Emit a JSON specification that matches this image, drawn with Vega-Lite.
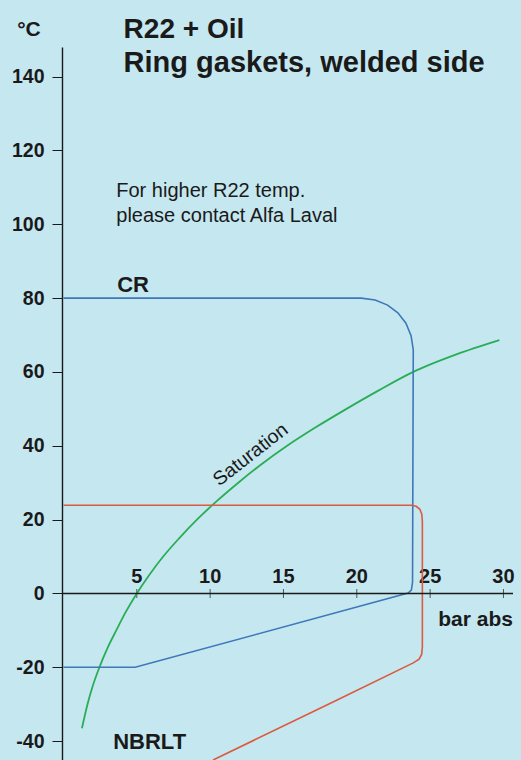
{
  "$schema": "https://vega.github.io/schema/vega-lite/v6.json",
  "width": 451,
  "height": 713,
  "autosize": {"type": "none"},
  "padding": {"left": 62, "top": 47, "right": 8, "bottom": 0},
  "background": "#c5e7f0",
  "config": {
    "view": {"stroke": null},
    "font": "Liberation Sans",
    "text": {"font": "Liberation Sans", "color": "#1a1a1a"},
    "axisY": {
      "grid": false,
      "domainColor": "#1a1a1a", "domainWidth": 1.4,
      "tickColor": "#1a1a1a", "tickWidth": 1, "tickSize": 10,
      "labelPadding": 8, "labelFont": "Liberation Sans",
      "labelFontSize": 19.5, "labelFontWeight": "bold", "labelColor": "#1a1a1a"
    }
  },
  "datasets": {
    "cr": [
      {"o": 1, "x": 0, "y": 80},
      {"o": 2, "x": 20.3, "y": 80},
      {"o": 3, "x": 21.25, "y": 79.5},
      {"o": 4, "x": 22.1, "y": 78.1},
      {"o": 5, "x": 22.8, "y": 76.0},
      {"o": 6, "x": 23.35, "y": 73.2},
      {"o": 7, "x": 23.7, "y": 69.8},
      {"o": 8, "x": 23.85, "y": 66.0},
      {"o": 9, "x": 23.8, "y": 3.0},
      {"o": 10, "x": 23.72, "y": 0.9},
      {"o": 11, "x": 23.5, "y": 0.1},
      {"o": 12, "x": 4.89, "y": -20},
      {"o": 13, "x": 0, "y": -20}
    ],
    "nbr": [
      {"o": 1, "x": 0, "y": 23.9},
      {"o": 2, "x": 23.7, "y": 23.9},
      {"o": 3, "x": 24.05, "y": 23.6},
      {"o": 4, "x": 24.3, "y": 22.8},
      {"o": 5, "x": 24.43, "y": 21.5},
      {"o": 6, "x": 24.47, "y": 19.5},
      {"o": 7, "x": 24.47, "y": -14.5},
      {"o": 8, "x": 24.42, "y": -16.5},
      {"o": 9, "x": 24.25, "y": -17.8},
      {"o": 10, "x": 23.85, "y": -18.8},
      {"o": 11, "x": 18.38, "y": -29.4},
      {"o": 12, "x": 10.2, "y": -45.1}
    ],
    "sat": [
      {"x": 1.26, "y": -36.5},
      {"x": 1.64, "y": -30},
      {"x": 2.0, "y": -25},
      {"x": 2.45, "y": -20},
      {"x": 3.0, "y": -14.8},
      {"x": 3.6, "y": -10},
      {"x": 4.25, "y": -5},
      {"x": 5.0, "y": 0},
      {"x": 5.85, "y": 5},
      {"x": 6.8, "y": 10},
      {"x": 7.9, "y": 15},
      {"x": 9.1, "y": 20},
      {"x": 10.45, "y": 25},
      {"x": 11.92, "y": 30},
      {"x": 13.5, "y": 35},
      {"x": 15.25, "y": 40},
      {"x": 17.2, "y": 45},
      {"x": 19.3, "y": 50},
      {"x": 21.5, "y": 55},
      {"x": 23.85, "y": 60},
      {"x": 26.7, "y": 64.6},
      {"x": 29.72, "y": 68.6}
    ],
    "xticks": [
      {"x": 5, "y": 0, "t": "5"},
      {"x": 10, "y": 0, "t": "10"},
      {"x": 15, "y": 0, "t": "15"},
      {"x": 20, "y": 0, "t": "20"},
      {"x": 25, "y": 0, "t": "25"},
      {"x": 30, "y": 0, "t": "30"}
    ]
  },
  "encoding": {
    "x": {"field": "x", "type": "quantitative", "title": null, "scale": {"domain": [-0.1, 30.65], "nice": false, "zero": false}, "axis": null},
    "y": {"field": "y", "type": "quantitative", "title": null, "scale": {"domain": [-45.1, 148], "nice": false, "zero": false},
      "axis": {"values": [-40, -20, 0, 20, 40, 60, 80, 100, 120, 140], "labelExpr": "'' + datum.value"}}
  },
  "layer": [
    {
      "data": {"name": "xticks"},
      "mark": {"type": "tick", "orient": "vertical", "size": 9, "thickness": 1, "color": "#1a1a1a"}
    },
    {
      "data": {"name": "xticks"},
      "mark": {"type": "text", "fontSize": 20, "fontWeight": "bold", "baseline": "middle", "align": "center", "dy": -16},
      "encoding": {"text": {"field": "t"}}
    },
    {
      "data": {"name": "sat"},
      "mark": {"type": "line", "color": "#2aad55", "strokeWidth": 1.8, "interpolate": "monotone"}
    },
    {
      "data": {"name": "cr"},
      "mark": {"type": "line", "color": "#3f78b8", "strokeWidth": 1.6},
      "encoding": {"order": {"field": "o"}}
    },
    {
      "data": {"name": "nbr"},
      "mark": {"type": "line", "color": "#dc5a3e", "strokeWidth": 1.6},
      "encoding": {"order": {"field": "o"}}
    },
    {
      "data": {"values": [{"x": 12.75, "y": 37.6, "t": "Saturation"}]},
      "mark": {"type": "text", "fontSize": 19.5, "angle": 322, "align": "center", "baseline": "middle"},
      "encoding": {"text": {"field": "t"}}
    },
    {
      "data": {"values": [{"x": 3.6, "y": 108.9, "t": "For higher R22 temp."}, {"x": 3.6, "y": 102.1, "t": "please contact Alfa Laval"}]},
      "mark": {"type": "text", "fontSize": 20, "align": "left", "baseline": "middle"},
      "encoding": {"text": {"field": "t"}}
    },
    {
      "data": {"values": [{"x": 3.66, "y": 83.6, "t": "CR"}, {"x": 3.39, "y": -40.2, "t": "NBRLT"}]},
      "mark": {"type": "text", "fontSize": 22, "fontWeight": "bold", "align": "left", "baseline": "middle"},
      "encoding": {"text": {"field": "t"}}
    },
    {
      "data": {"values": [{"x": 30.65, "y": -7.2, "t": "bar abs"}]},
      "mark": {"type": "text", "fontSize": 21, "fontWeight": "bold", "align": "right", "baseline": "middle"},
      "encoding": {"text": {"field": "t"}}
    },
    {
      "data": {"values": [{"x": 4.1, "y": 152.6, "t": "R22 + Oil"}]},
      "mark": {"type": "text", "fontSize": 28, "fontWeight": "bold", "align": "left", "baseline": "middle"},
      "encoding": {"text": {"field": "t"}}
    },
    {
      "data": {"values": [{"x": 4.1, "y": 143.6, "t": "Ring gaskets, welded side"}]},
      "mark": {"type": "text", "fontSize": 29, "fontWeight": "bold", "align": "left", "baseline": "middle"},
      "encoding": {"text": {"field": "t"}}
    },
    {
      "data": {"values": [{"x": -2.35, "y": 152.6, "t": "°C"}]},
      "mark": {"type": "text", "fontSize": 21, "fontWeight": "bold", "align": "center", "baseline": "middle"},
      "encoding": {"text": {"field": "t"}}
    },
    {
      "data": {"values": [{"y": 0}]},
      "mark": {"type": "rule", "color": "#1a1a1a", "strokeWidth": 1.4},
      "encoding": {"x": {"value": 0}, "x2": {"value": 451}}
    }
  ]
}
